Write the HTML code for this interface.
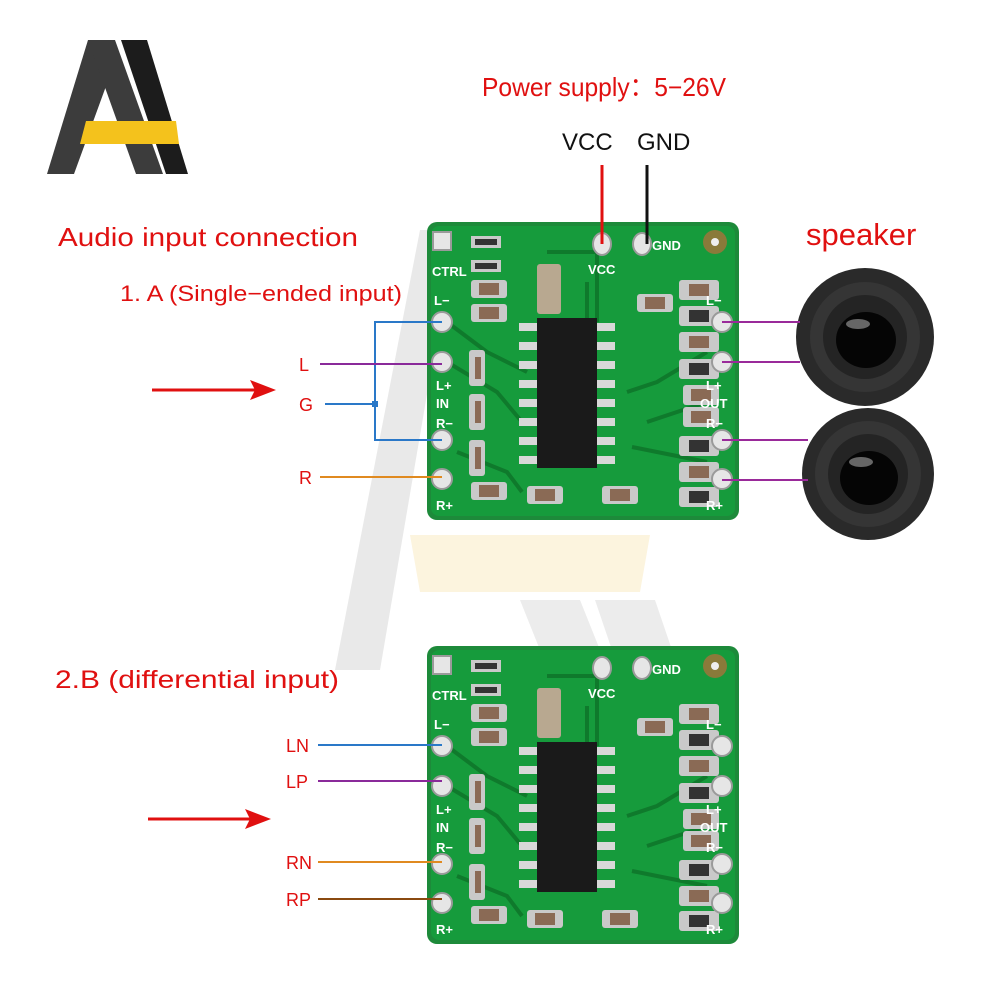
<!DOCTYPE html>
<html><head><meta charset="utf-8"><style>
html,body{margin:0;padding:0;background:#fff;}
svg{display:block;}
text{font-family:"Liberation Sans",sans-serif;}
</style></head><body>
<svg width="1000" height="1000" viewBox="0 0 1000 1000" xmlns="http://www.w3.org/2000/svg">
<defs>
<g id="board">
  <rect x="0" y="0" width="312" height="298" rx="10" fill="#1d8a3a"/>
  <rect x="4" y="4" width="304" height="290" rx="8" fill="#169b3c"/>
  <g stroke="#0f7a2c" stroke-width="4" fill="none">
    <path d="M20 100 L60 130 L100 150"/><path d="M20 140 L70 170 L95 200"/>
    <path d="M30 230 L80 250 L95 270"/><path d="M280 130 L230 160 L200 170"/>
    <path d="M280 180 L220 200"/><path d="M280 240 L230 230 L205 225"/>
    <path d="M120 30 L170 30 L170 100"/><path d="M160 140 L160 60"/>
  </g>
  <rect x="110" y="96" width="60" height="150" fill="#1a1a1a"/>
  <g fill="#d8d8d8">
    <rect x="92" y="101" width="18" height="8"/><rect x="92" y="120" width="18" height="8"/><rect x="92" y="139" width="18" height="8"/><rect x="92" y="158" width="18" height="8"/><rect x="92" y="177" width="18" height="8"/><rect x="92" y="196" width="18" height="8"/><rect x="92" y="215" width="18" height="8"/><rect x="92" y="234" width="18" height="8"/>
    <rect x="170" y="101" width="18" height="8"/><rect x="170" y="120" width="18" height="8"/><rect x="170" y="139" width="18" height="8"/><rect x="170" y="158" width="18" height="8"/><rect x="170" y="177" width="18" height="8"/><rect x="170" y="196" width="18" height="8"/><rect x="170" y="215" width="18" height="8"/><rect x="170" y="234" width="18" height="8"/>
  </g>
  <g fill="#c9c9c9">
    <rect x="44" y="14" width="30" height="12"/><rect x="44" y="38" width="30" height="12"/>
    <rect x="44" y="58" width="36" height="18" rx="3"/><rect x="44" y="82" width="36" height="18" rx="3"/>
    <rect x="110" y="42" width="24" height="50" rx="3" fill="#b8a890"/>
    <rect x="210" y="72" width="36" height="18" rx="3"/>
    <rect x="252" y="58" width="40" height="20" rx="3"/><rect x="252" y="84" width="40" height="20" rx="3"/>
    <rect x="252" y="110" width="40" height="20" rx="3"/><rect x="252" y="137" width="40" height="20" rx="3"/>
    <rect x="256" y="163" width="36" height="20" rx="3"/><rect x="256" y="185" width="36" height="20" rx="3"/>
    <rect x="252" y="214" width="40" height="20" rx="3"/><rect x="252" y="240" width="40" height="20" rx="3"/>
    <rect x="252" y="265" width="40" height="20" rx="3"/>
    <rect x="42" y="128" width="16" height="36" rx="3"/><rect x="42" y="172" width="16" height="36" rx="3"/><rect x="42" y="218" width="16" height="36" rx="3"/>
    <rect x="44" y="260" width="36" height="18" rx="3"/><rect x="100" y="264" width="36" height="18" rx="3"/><rect x="175" y="264" width="36" height="18" rx="3"/>
  </g>
  <g fill="#8a6a55">
    <rect x="52" y="61" width="20" height="12"/><rect x="52" y="85" width="20" height="12"/>
    <rect x="48" y="135" width="6" height="22"/><rect x="48" y="179" width="6" height="22"/><rect x="48" y="225" width="6" height="22"/>
    <rect x="262" y="62" width="20" height="12"/><rect x="262" y="88" width="20" height="12" fill="#333"/>
    <rect x="262" y="114" width="20" height="12"/><rect x="262" y="141" width="20" height="12" fill="#333"/>
    <rect x="264" y="167" width="20" height="12"/><rect x="264" y="189" width="20" height="12"/>
    <rect x="262" y="218" width="20" height="12" fill="#333"/><rect x="262" y="244" width="20" height="12"/>
    <rect x="262" y="269" width="20" height="12" fill="#333"/>
    <rect x="218" y="75" width="20" height="12"/><rect x="52" y="263" width="20" height="12"/><rect x="108" y="267" width="20" height="12"/><rect x="183" y="267" width="20" height="12"/>
    <rect x="48" y="17" width="22" height="6" fill="#333"/><rect x="48" y="41" width="22" height="6" fill="#333"/>
  </g>
  <g fill="#e6e6e6" stroke="#9a9a9a" stroke-width="2">
    <rect x="6" y="10" width="18" height="18"/>
    <circle cx="15" cy="100" r="10"/><circle cx="15" cy="140" r="10"/><circle cx="15" cy="218" r="10"/><circle cx="15" cy="257" r="10"/>
    <circle cx="295" cy="100" r="10"/><circle cx="295" cy="140" r="10"/><circle cx="295" cy="218" r="10"/><circle cx="295" cy="257" r="10"/>
    <ellipse cx="175" cy="22" rx="9" ry="11"/><ellipse cx="215" cy="22" rx="9" ry="11"/>
  </g>
  <circle cx="288" cy="20" r="12" fill="#8a7a3a"/><circle cx="288" cy="20" r="4" fill="#eee"/>
</g>
</defs>

<polygon points="335,670 380,670 455,230 420,230" fill="#e9e9e9"/>
<polygon points="410,535 650,535 640,592 420,592" fill="#fcf4de"/>
<polygon points="520,600 580,600 600,650 540,650" fill="#ececec"/>
<polygon points="595,600 655,600 672,650 612,650" fill="#ececec"/>

<polygon points="47,174 74,174 117,56 100,40 88,40" fill="#3c3c3c"/>
<polygon points="88,40 115,40 163,174 136,174" fill="#3c3c3c"/>
<polygon points="121,40 147,40 188,174 166,174" fill="#1c1c1c"/>
<polygon points="86,121 176,121 179,144 80,144" fill="#f4c21c"/>

<use href="#board" x="427" y="222"/>
<use href="#board" x="427" y="646"/>
<g fill="#fff" font-size="13" font-weight="bold" font-family="Liberation Mono">
  <text x="432" y="276">CTRL</text><text x="434" y="305">L−</text><text x="436" y="390">L+</text><text x="436" y="408">IN</text><text x="436" y="428">R−</text><text x="436" y="510">R+</text>
  <text x="706" y="305">L−</text><text x="706" y="390">L+</text><text x="700" y="408">OUT</text><text x="706" y="428">R−</text><text x="706" y="510">R+</text>
  <text x="588" y="274">VCC</text><text x="652" y="250">GND</text>
  <text x="432" y="700">CTRL</text><text x="434" y="729">L−</text><text x="436" y="814">L+</text><text x="436" y="832">IN</text><text x="436" y="852">R−</text><text x="436" y="934">R+</text>
  <text x="706" y="729">L−</text><text x="706" y="814">L+</text><text x="700" y="832">OUT</text><text x="706" y="852">R−</text><text x="706" y="934">R+</text>
  <text x="588" y="698">VCC</text><text x="652" y="674">GND</text>
</g>

<g>
  <circle cx="865" cy="337" r="69" fill="#2a2a2a"/><circle cx="865" cy="337" r="55" fill="#353535"/><circle cx="865" cy="337" r="42" fill="#242424"/><ellipse cx="866" cy="340" rx="30" ry="28" fill="#050505"/><ellipse cx="858" cy="324" rx="12" ry="5" fill="#666"/>
  <circle cx="868" cy="474" r="66" fill="#2a2a2a"/><circle cx="868" cy="474" r="53" fill="#353535"/><circle cx="868" cy="474" r="40" fill="#242424"/><ellipse cx="869" cy="478" rx="29" ry="27" fill="#050505"/><ellipse cx="861" cy="462" rx="12" ry="5" fill="#666"/>
</g>

<g fill="none" stroke-width="2">
  <line x1="602" y1="165" x2="602" y2="244" stroke="#e01010" stroke-width="3"/>
  <line x1="647" y1="165" x2="647" y2="244" stroke="#111" stroke-width="3"/>
  <path d="M442 322 H375 V440 H442" stroke="#2a78c8"/>
  <line x1="325" y1="404" x2="375" y2="404" stroke="#2a78c8"/>
  <line x1="320" y1="364" x2="442" y2="364" stroke="#8a2a9a"/>
  <line x1="320" y1="477" x2="442" y2="477" stroke="#e08a20"/>
  <line x1="722" y1="322" x2="800" y2="322" stroke="#9a2a9a"/>
  <line x1="722" y1="362" x2="800" y2="362" stroke="#9a2a9a"/>
  <line x1="722" y1="440" x2="808" y2="440" stroke="#9a2a9a"/>
  <line x1="722" y1="480" x2="808" y2="480" stroke="#9a2a9a"/>
  <line x1="318" y1="745" x2="442" y2="745" stroke="#2a78c8"/>
  <line x1="318" y1="781" x2="442" y2="781" stroke="#8a2a9a"/>
  <line x1="318" y1="862" x2="442" y2="862" stroke="#e08a20"/>
  <line x1="318" y1="899" x2="442" y2="899" stroke="#8a4a10"/>
</g>
<rect x="372" y="401" width="6" height="6" fill="#2a78c8"/>

<line x1="152" y1="390" x2="255" y2="390" stroke="#e01010" stroke-width="3"/>
<polygon points="276,390 250,380 255,390 250,400" fill="#e01010"/>
<line x1="148" y1="819" x2="250" y2="819" stroke="#e01010" stroke-width="3"/>
<polygon points="271,819 245,809 250,819 245,829" fill="#e01010"/>

<g fill="#e01010">
  <text x="482" y="96" font-size="26" textLength="244" lengthAdjust="spacingAndGlyphs">Power supply：5−26V</text>
  <text x="58" y="246" font-size="26" textLength="300" lengthAdjust="spacingAndGlyphs">Audio input connection</text>
  <text x="120" y="301" font-size="22" textLength="282" lengthAdjust="spacingAndGlyphs">1. A (Single−ended input)</text>
  <text x="806" y="245" font-size="31">speaker</text>
  <text x="55" y="688" font-size="25" textLength="284" lengthAdjust="spacingAndGlyphs">2.B (differential input)</text>
  <g font-size="18"><text x="299" y="371">L</text><text x="299" y="411">G</text><text x="299" y="484">R</text>
  <text x="286" y="752">LN</text><text x="286" y="788">LP</text><text x="286" y="869">RN</text><text x="286" y="906">RP</text></g>
</g>
<text x="562" y="150" font-size="24" fill="#111">VCC</text>
<text x="637" y="150" font-size="24" fill="#111">GND</text>
</svg>
</body></html>
